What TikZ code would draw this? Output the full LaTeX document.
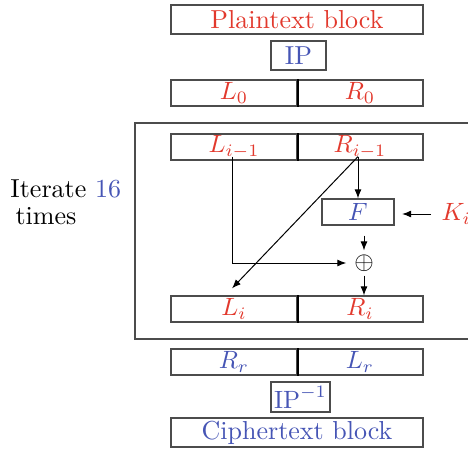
\documentclass[tikz,border=0pt]{standalone}
\usepackage{amsmath,amssymb}
\usepackage{xcolor}
\usepackage{tikz}
\usetikzlibrary{arrows.meta, positioning, calc}
\definecolor{C_VAL}{HTML}{E2392D}
\definecolor{C_OP} {HTML}{4655B5}
\tikzset{
  %% -- full-width block (plaintext / ciphertext) --
  DES/full/.style={
    draw=black!70, line width=0.5pt, inner sep=0pt,
    minimum width=100.8pt, minimum height=11.6pt
  },
  %% -- one half of a split block --
  DES/half/.style={
    draw=black!70, line width=0.5pt, inner sep=0pt,
    minimum width=50.4pt, minimum height=10.4pt
  },
  %% -- small operation box --
  DES/op/.style={
    draw=black!70, line width=0.5pt, inner sep=0pt,
    minimum height=11.6pt, text=C_OP
  },
  %% -- divider between halves --
  DES/div/.style={line width=0.8pt, black},
  %% -- data flow arrow --
  DES/arr/.style={-{Latex[length=3.6pt, width=2.8pt]}, thin},
}

\begin{document}
\begin{tikzpicture}[
  x=0.4pt, y=-0.4pt,
  every node/.style={font=\fontsize{10.4}{11}\selectfont},
]
\useasboundingbox (0,0) rectangle (468,448);

\pgfmathsetmacro{\xL}{234}  %% left half
\pgfmathsetmacro{\xR}{360}  %% right half

%% ━━━━━━━━━━━━━━━━━━━━━━━━━━━━━━━━━━━━━━━━━━━━━━━━━━━━━━━━━━━━━
%%  INPUT
%% ━━━━━━━━━━━━━━━━━━━━━━━━━━━━━━━━━━━━━━━━━━━━━━━━━━━━━━━━━━━━━
\node[DES/full, text=C_VAL] (plain) at (297,19.5) {Plaintext block};
\node[DES/op, minimum width=22pt] (ip) at (298.5,55.5) {IP};

\node[DES/half, text=C_VAL] (l0) at (\xL,93) {$L_0$};
\node[DES/half, text=C_VAL] (r0) at (\xR,93) {$R_0$};
\draw[DES/div] (l0.north east) -- (l0.south east);

%% ━━━━━━━━━━━━━━━━━━━━━━━━━━━━━━━━━━━━━━━━━━━━━━━━━━━━━━━━━━━━━
%%  ROUND (repeated)
%% ━━━━━━━━━━━━━━━━━━━━━━━━━━━━━━━━━━━━━━━━━━━━━━━━━━━━━━━━━━━━━
\draw[black!70, line width=0.5pt] (135,123) rectangle (500,339);

\node[anchor=north west, align=left, inner sep=0pt] (iter) at (10,179)
  {Iterate {\color{C_OP}16}\\\hspace{2pt}times};

\node[DES/half, text=C_VAL] (lprev) at (\xL,147) {$L_{i-1}$};
\node[DES/half, text=C_VAL] (rprev) at (\xR,147) {$R_{i-1}$};
\draw[DES/div] (lprev.north east) -- (lprev.south east);

\node[DES/op, minimum width=28.8pt, minimum height=10.4pt] (f) at (358,212) {$F$};
\node[anchor=west, text=C_VAL, inner sep=0pt] (key) at (441,214) {$K_i$};
\node[inner sep=0pt] (xor) at (364,263) {$\oplus$};

\node[DES/half, text=C_VAL] (lnext) at (\xL,309) {$L_i$};
\node[DES/half, text=C_VAL] (rnext) at (\xR,309) {$R_i$};
\draw[DES/div] (lnext.north east) -- (lnext.south east);

%% R_{i-1} -> F
\draw[DES/arr] ($(rprev.south)+(-2,-4)$) -- (f.north);
%% R_{i-1} -> L_i (swap)
\draw[DES/arr] ($(rprev.south)+(-2,-4)$) -- ($(lnext.north)+(-2,-7)$);
%% L_{i-1} -> xor
\draw[DES/arr, shorten >=3pt] ($(lprev.south)+(-2,-4)$) |- (xor.west);
%% key -> F
\draw[DES/arr, shorten <=4pt, shorten >=3pt] (key.west) -- (key.west -| f.east);
%% F -> xor -> R_i
\draw[DES/arr, shorten <=4pt, shorten >=1.5pt] (f.south -| xor) -- (xor.north);
\draw[DES/arr, shorten <=1.5pt] (xor.south) -- (rnext.north -| xor);

%% ━━━━━━━━━━━━━━━━━━━━━━━━━━━━━━━━━━━━━━━━━━━━━━━━━━━━━━━━━━━━━
%%  OUTPUT
%% ━━━━━━━━━━━━━━━━━━━━━━━━━━━━━━━━━━━━━━━━━━━━━━━━━━━━━━━━━━━━━
\node[DES/half, text=C_OP] (rr) at (\xL,362) {$R_r$};
\node[DES/half, text=C_OP] (lr) at (\xR,362) {$L_r$};
\draw[DES/div] (rr.north east) -- (rr.south east);

\node[DES/op, minimum width=23.6pt, minimum height=12pt] (ipinv) at (300.5,397)
  {$\mathrm{IP}^{-1}$};
\node[DES/full, text=C_OP] (cipher) at (297,432.5) {Ciphertext block};

\end{tikzpicture}
\end{document}
